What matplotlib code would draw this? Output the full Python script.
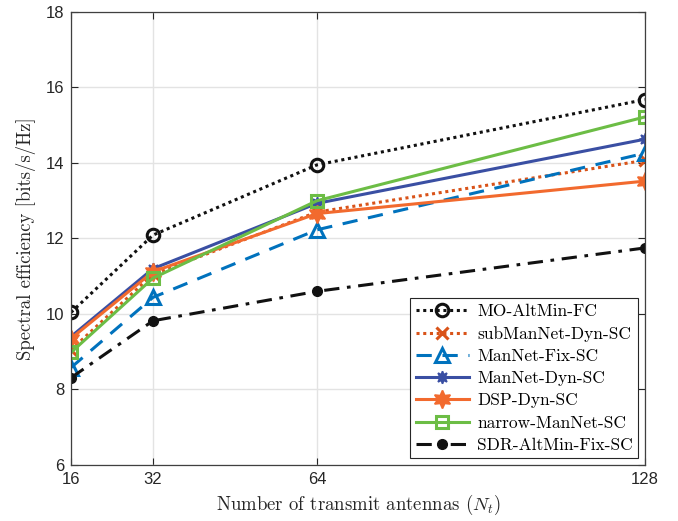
import matplotlib
matplotlib.use("Agg")
import matplotlib.pyplot as plt

# Number of transmit antennas
antennas = [16, 32, 64, 128]

# Spectral efficiency [bits/s/Hz] per method
mo_altmin_fc = [10.04, 12.09, 13.95, 15.68]
submannet_dyn_sc = [9.05, 11.05, 12.70, 14.07]
mannet_fix_sc = [8.58, 10.44, 12.23, 14.26]
mannet_dyn_sc = [9.40, 11.20, 12.93, 14.63]
dsp_dyn_sc = [9.35, 11.12, 12.66, 13.52]
narrow_mannet_sc = [8.98, 10.95, 13.00, 15.22]
sdr_altmin_fix_sc = [8.31, 9.82, 10.60, 11.75]

x_ticks = [16, 32, 64, 128]
y_ticks = [6, 8, 10, 12, 14, 16, 18]

plt.rcParams["font.family"] = "Liberation Sans"
plt.rcParams["mathtext.fontset"] = "cm"
plt.rcParams["axes.unicode_minus"] = False

fig = plt.figure(figsize=(6.78, 5.21), dpi=100)
ax = fig.add_axes([0.1047, 0.1075, 0.8466, 0.8695])

lw = 2.2
series = [
    (mo_altmin_fc, "MO-AltMin-FC",
     dict(color="#111111", linestyle=(0, (1, 1.2)), marker="o", markersize=9,
          markerfacecolor="none", markeredgewidth=2.2)),
    (submannet_dyn_sc, "subManNet-Dyn-SC",
     dict(color="#D95319", linestyle=(0, (1, 1.2)), marker="x", markersize=9,
          markeredgewidth=2.2)),
    (mannet_fix_sc, "ManNet-Fix-SC",
     dict(color="#0072BD", linestyle=(0, (5, 3.5)), marker="^", markersize=10.5,
          markerfacecolor="none", markeredgewidth=2.2)),
    (mannet_dyn_sc, "ManNet-Dyn-SC",
     dict(color="#3A4FA3", linestyle="-", marker=(8, 1, 0), markersize=9,
          markeredgewidth=1.2)),
    (dsp_dyn_sc, "DSP-Dyn-SC",
     dict(color="#F26A2E", linestyle="-", marker=(6, 1, 0), markersize=13,
          markeredgewidth=1.2)),
    (narrow_mannet_sc, "narrow-ManNet-SC",
     dict(color="#6CBD45", linestyle="-", marker="s", markersize=9,
          markerfacecolor="none", markeredgewidth=2.2)),
    (sdr_altmin_fix_sc, "SDR-AltMin-Fix-SC",
     dict(color="#111111", linestyle=(0, (5, 2.5, 1.2, 2.5)), marker="o",
          markersize=7, markeredgewidth=1)),
]

for vals, label, style in series:
    ax.plot(antennas, vals, linewidth=lw, label=label, **style)

ax.set_xlim(16, 128)
ax.set_ylim(6, 18)
ax.set_xticks(x_ticks)
ax.set_yticks(y_ticks)
ax.tick_params(direction="in", top=True, right=True, length=5, width=0.8,
               labelsize=12, colors="#262626", pad=5)
ax.grid(True, color="#E3E3E3", linewidth=1)
ax.set_axisbelow(True)
for sp in ax.spines.values():
    sp.set_color("#404040")
    sp.set_linewidth(0.9)

serif = "cmr10"
ax.set_xlabel(r"Number of transmit antennas ($N_t$)", family=serif,
              fontsize=13.5, color="#262626", labelpad=4)
ax.set_ylabel("Spectral efficiency [bits/s/Hz]", family=serif,
              fontsize=13.5, color="#262626", labelpad=7)

leg = ax.legend(loc="lower right", bbox_to_anchor=(0.988, 0.015),
                borderaxespad=0, numpoints=1, handlelength=3.1,
                fancybox=False, framealpha=1, edgecolor="#262626",
                prop={"family": serif, "size": 12.5}, labelspacing=0.4,
                handletextpad=0.45, borderpad=0.3)
leg.get_frame().set_linewidth(0.8)

fig.savefig("out.png", dpi=100)
